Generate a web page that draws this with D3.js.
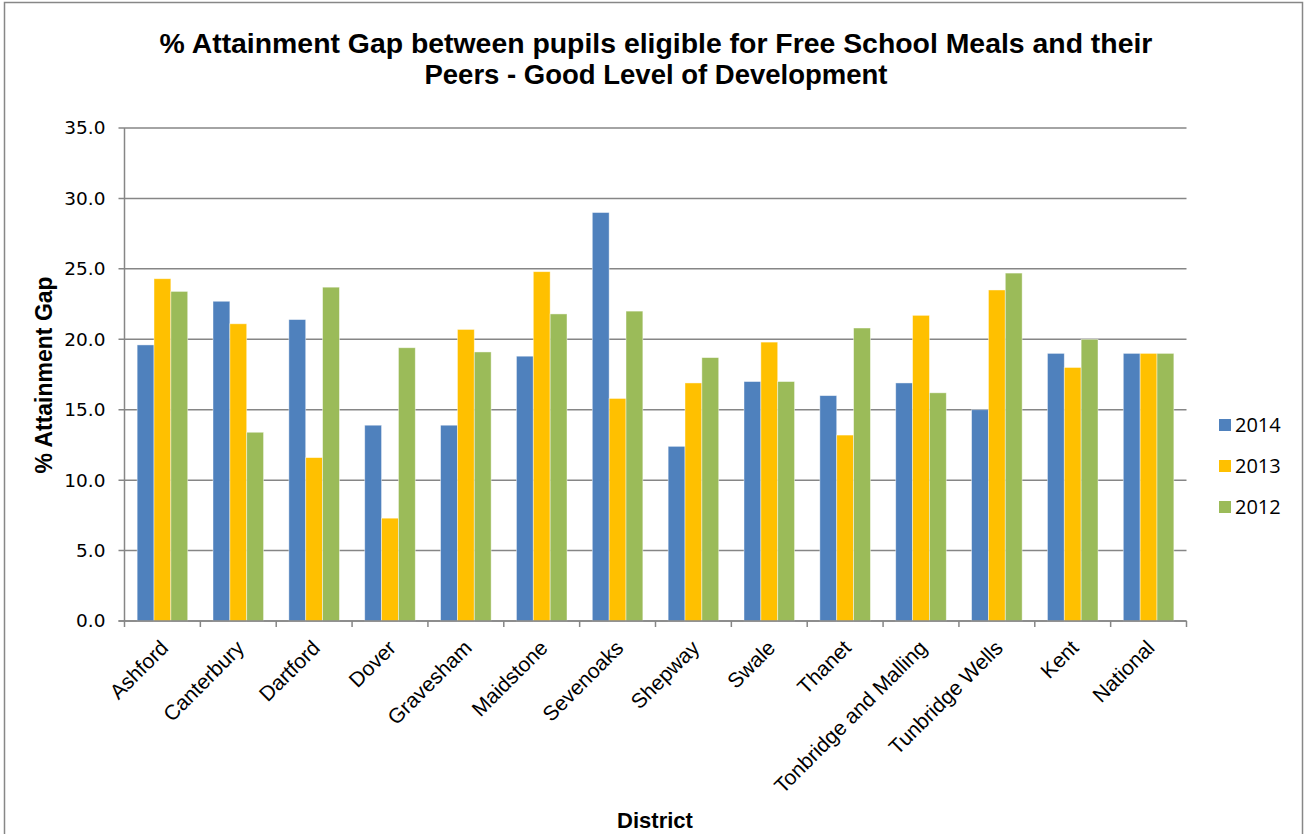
<!DOCTYPE html>
<html><head><meta charset="utf-8">
<script src="https://cdn.jsdelivr.net/npm/d3@7"></script>
<style>body{margin:0;background:#fff}svg{display:block}</style>
</head><body>
<script>
const categories = ["Ashford","Canterbury","Dartford","Dover","Gravesham","Maidstone","Sevenoaks","Shepway","Swale","Thanet","Tonbridge and Malling","Tunbridge Wells","Kent","National"];
const series = ["2014","2013","2012"];
const values2014 = [19.6,22.7,21.4,13.9,13.9,18.8,29.0,12.4,17.0,16.0,16.9,15.0,19.0,19.0];
const values2013 = [24.3,21.1,11.6,7.3,20.7,24.8,15.8,16.9,19.8,13.2,21.7,23.5,18.0,19.0];
const values2012 = [23.4,13.4,23.7,19.4,19.1,21.8,22.0,18.7,17.0,20.8,16.2,24.7,20.0,19.0];
const yTicks = [0,5,10,15,20,25,30,35];
const colors = ["#4F81BD","#FFC000","#9BBB59"];
const titleLines = ["% Attainment Gap between pupils eligible for Free School Meals and their","Peers - Good Level of Development"];

(function(){
const W = 1308, H = 834;
const FONT = "'Liberation Sans', Arial, sans-serif";
const svg = d3.select("body").append("svg").attr("width", W).attr("height", H);
svg.append("rect").attr("x",4.5).attr("y",2.5).attr("width",1298).attr("height",840)
  .attr("fill","#fff").attr("stroke","#878787").attr("stroke-width",1.5);

const pL = 124.5, pR = 1186.5, pT = 128, pB = 621;
const x = d3.scaleBand().domain(categories).range([pL, pR]).paddingInner(0).paddingOuter(0);
const inner = d3.scaleBand().domain(series).range([0, x.bandwidth()*3/4.5]);
const y = d3.scaleLinear().domain([0,35]).range([pB, pT]);

svg.append("g").selectAll("line").data(yTicks).join("line")
  .attr("x1", pL-6).attr("x2", pR).attr("y1", d=>y(d)).attr("y2", d=>y(d))
  .attr("stroke","#868686").attr("stroke-width",1.5);

const data = categories.map((c,i)=>({c, v:[values2014[i],values2013[i],values2012[i]]}));
const grp = svg.append("g").selectAll("g").data(data).join("g")
  .attr("transform", d=>`translate(${x(d.c)+x.bandwidth()/6},0)`);
grp.selectAll("rect").data(d=>d.v.map((v,j)=>({v,s:series[j],j}))).join("rect")
  .attr("x", d=>inner(d.s)).attr("width", inner.bandwidth())
  .attr("y", d=>y(d.v)).attr("height", d=>pB-y(d.v))
  .attr("fill", d=>colors[d.j]).attr("stroke","rgba(255,255,255,0.55)").attr("stroke-width",0.8);

svg.append("line").attr("x1",pL).attr("x2",pL).attr("y1",pT).attr("y2",pB).attr("stroke","#868686").attr("stroke-width",1.5);
svg.append("line").attr("x1",pL-6).attr("x2",pR).attr("y1",pB).attr("y2",pB).attr("stroke","#868686").attr("stroke-width",1.5);
const xb = categories.map(c=>x(c)).concat([pR]);
svg.append("g").selectAll("line").data(xb).join("line")
  .attr("x1",d=>d).attr("x2",d=>d).attr("y1",pB).attr("y2",pB+6)
  .attr("stroke","#868686").attr("stroke-width",1.5);

const yAxis = d3.axisLeft(y).tickValues(yTicks).tickFormat(d3.format(".1f")).tickSize(0).tickPadding(19);
const ya = svg.append("g").attr("transform",`translate(${pL},0)`).call(yAxis);
ya.select(".domain").remove();
ya.selectAll("text").attr("font-family","'DejaVu Sans', Verdana, sans-serif").attr("font-size",18.5).attr("fill","#000");

svg.append("g").selectAll("text").data(categories).join("text")
  .attr("transform", d=>`translate(${x(d)+x.bandwidth()/2+2},${pB+23}) rotate(-45)`)
  .attr("text-anchor","end").attr("dy","0.35em")
  .attr("font-family",FONT).attr("font-size",21).attr("fill","#000")
  .text(d=>d);

svg.append("g").selectAll("text").data(titleLines).join("text")
  .attr("x",656).attr("y",(d,i)=>53+i*31).attr("text-anchor","middle")
  .attr("font-family",FONT).attr("font-weight","bold").attr("font-size",(d,i)=>i===0?28.4:27.5)
  .text(d=>d);

svg.append("text").attr("transform","translate(52,375) rotate(-90)").attr("text-anchor","middle")
  .attr("font-family",FONT).attr("font-weight","bold").attr("font-size",23).text("% Attainment Gap");
svg.append("text").attr("x",655).attr("y",828).attr("text-anchor","middle")
  .attr("font-family",FONT).attr("font-weight","bold").attr("font-size",22).text("District");

const lg = svg.append("g").selectAll("g").data(series).join("g")
  .attr("transform",(d,i)=>`translate(1219,${425+i*41})`);
lg.append("rect").attr("x",0).attr("y",-6).attr("width",12).attr("height",12).attr("fill",(d,i)=>colors[i]);
lg.append("text").attr("x",16).attr("y",0).attr("dy","0.36em")
  .attr("font-family","'Open Sans', 'Noto Sans', sans-serif").attr("font-size",20).text(d=>d);
})();
</script>
</body></html>
